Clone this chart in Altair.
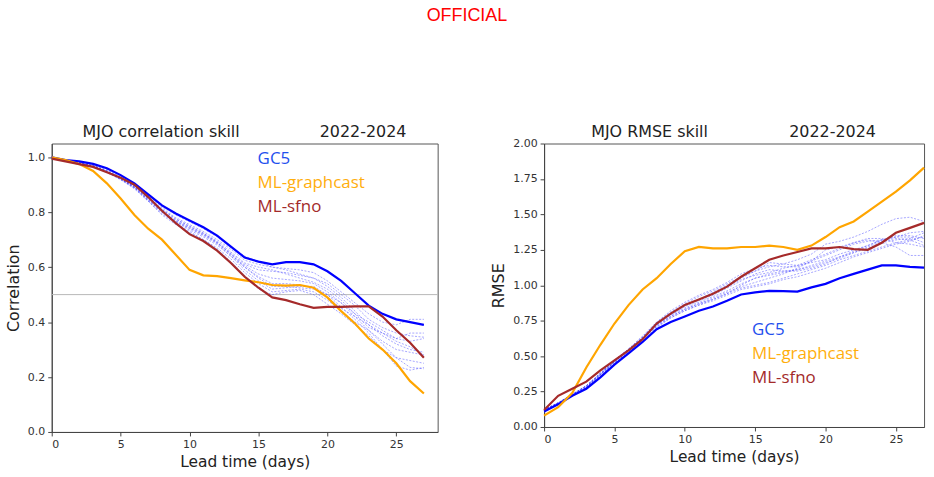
import altair as alt
import pandas as pd

lead = list(range(28))

# ---------------- Correlation panel ----------------
corr_gc5 = [1.0, 0.99, 0.985, 0.976, 0.96, 0.935, 0.905, 0.865, 0.825, 0.795, 0.77, 0.745, 0.715, 0.675,
            0.635, 0.62, 0.61, 0.618, 0.618, 0.61, 0.585, 0.55, 0.505, 0.46, 0.43, 0.41, 0.40, 0.39]
corr_graphcast = [1.0, 0.99, 0.975, 0.95, 0.905, 0.85, 0.79, 0.74, 0.70, 0.645, 0.59, 0.57, 0.567, 0.56,
                  0.552, 0.545, 0.535, 0.533, 0.535, 0.525, 0.49, 0.44, 0.395, 0.34, 0.30, 0.25, 0.185, 0.14]
corr_sfno = [0.995, 0.985, 0.975, 0.965, 0.945, 0.925, 0.90, 0.855, 0.805, 0.76, 0.72, 0.695, 0.66, 0.615,
             0.565, 0.525, 0.49, 0.48, 0.465, 0.452, 0.455, 0.455, 0.457, 0.457, 0.42, 0.37, 0.325, 0.27]
corr_members = [
    [1.0, 0.99, 0.98, 0.97, 0.955, 0.93, 0.9, 0.86, 0.82, 0.79, 0.765, 0.74, 0.71, 0.67, 0.64, 0.62, 0.6, 0.595, 0.59, 0.58, 0.55, 0.51, 0.47, 0.43, 0.40, 0.39, 0.41, 0.41],
    [1.0, 0.99, 0.98, 0.968, 0.95, 0.925, 0.895, 0.85, 0.81, 0.775, 0.75, 0.725, 0.69, 0.65, 0.61, 0.59, 0.585, 0.58, 0.57, 0.56, 0.54, 0.5, 0.46, 0.41, 0.38, 0.36, 0.35, 0.345],
    [1.0, 0.99, 0.978, 0.965, 0.948, 0.92, 0.89, 0.845, 0.8, 0.765, 0.735, 0.71, 0.68, 0.64, 0.6, 0.56, 0.53, 0.53, 0.525, 0.52, 0.5, 0.47, 0.43, 0.4, 0.37, 0.34, 0.33, 0.34],
    [1.0, 0.99, 0.978, 0.966, 0.946, 0.92, 0.888, 0.84, 0.795, 0.76, 0.73, 0.7, 0.67, 0.63, 0.58, 0.54, 0.51, 0.515, 0.52, 0.51, 0.48, 0.44, 0.4, 0.37, 0.33, 0.3, 0.29, 0.28],
    [1.0, 0.99, 0.977, 0.965, 0.945, 0.918, 0.885, 0.84, 0.79, 0.755, 0.725, 0.7, 0.665, 0.62, 0.57, 0.52, 0.50, 0.51, 0.515, 0.50, 0.465, 0.43, 0.39, 0.35, 0.3, 0.27, 0.26, 0.25],
    [1.0, 0.99, 0.98, 0.97, 0.952, 0.926, 0.895, 0.855, 0.815, 0.78, 0.755, 0.73, 0.70, 0.665, 0.625, 0.61, 0.6, 0.59, 0.575, 0.56, 0.53, 0.49, 0.44, 0.39, 0.35, 0.32, 0.3, 0.29],
    [1.0, 0.99, 0.979, 0.967, 0.948, 0.922, 0.892, 0.848, 0.805, 0.77, 0.745, 0.72, 0.69, 0.645, 0.605, 0.575, 0.56, 0.555, 0.55, 0.54, 0.51, 0.47, 0.42, 0.37, 0.32, 0.27, 0.235, 0.23],
    [1.0, 0.99, 0.978, 0.966, 0.947, 0.92, 0.89, 0.843, 0.8, 0.765, 0.74, 0.715, 0.685, 0.64, 0.59, 0.55, 0.52, 0.525, 0.53, 0.53, 0.5, 0.455, 0.41, 0.36, 0.3, 0.24, 0.225, 0.235],
    [1.0, 0.99, 0.98, 0.969, 0.95, 0.924, 0.893, 0.852, 0.81, 0.775, 0.748, 0.723, 0.695, 0.655, 0.615, 0.6, 0.59, 0.575, 0.56, 0.545, 0.52, 0.48, 0.43, 0.38, 0.36, 0.33, 0.31, 0.28],
    [1.0, 0.99, 0.979, 0.967, 0.949, 0.923, 0.89, 0.846, 0.802, 0.768, 0.742, 0.718, 0.688, 0.648, 0.6, 0.565, 0.54, 0.54, 0.535, 0.525, 0.49, 0.45, 0.42, 0.39, 0.36, 0.34, 0.36, 0.36],
]

# ---------------- RMSE panel ----------------
rmse_gc5 = [0.11, 0.16, 0.22, 0.27, 0.35, 0.44, 0.52, 0.60, 0.69, 0.74, 0.78, 0.82, 0.85, 0.89,
            0.935, 0.95, 0.96, 0.958, 0.955, 0.985, 1.01, 1.05, 1.08, 1.11, 1.14, 1.14, 1.13, 1.125]
rmse_graphcast = [0.08, 0.14, 0.24, 0.42, 0.58, 0.73, 0.86, 0.97, 1.05, 1.15, 1.24, 1.27, 1.26, 1.26,
                  1.27, 1.27, 1.28, 1.27, 1.25, 1.28, 1.34, 1.41, 1.45, 1.52, 1.59, 1.66, 1.74, 1.83]
rmse_sfno = [0.12, 0.22, 0.27, 0.32, 0.40, 0.47, 0.54, 0.62, 0.73, 0.80, 0.86, 0.90, 0.94, 0.99,
             1.06, 1.12, 1.18, 1.21, 1.235, 1.26, 1.26, 1.27, 1.255, 1.25, 1.30, 1.37, 1.405, 1.44]
rmse_members = [
    [0.12, 0.17, 0.23, 0.28, 0.37, 0.46, 0.54, 0.63, 0.72, 0.78, 0.83, 0.87, 0.9, 0.94, 0.98, 1.0, 1.02, 1.05, 1.08, 1.11, 1.14, 1.18, 1.21, 1.24, 1.27, 1.3, 1.32, 1.34],
    [0.12, 0.17, 0.23, 0.29, 0.38, 0.47, 0.55, 0.64, 0.74, 0.81, 0.87, 0.92, 0.96, 1.01, 1.06, 1.1, 1.13, 1.15, 1.18, 1.22, 1.29, 1.31, 1.34, 1.38, 1.43, 1.47, 1.48, 1.45],
    [0.11, 0.16, 0.22, 0.28, 0.37, 0.46, 0.54, 0.62, 0.72, 0.79, 0.85, 0.89, 0.93, 0.98, 1.03, 1.08, 1.11, 1.1, 1.1, 1.12, 1.15, 1.2, 1.24, 1.28, 1.32, 1.35, 1.35, 1.33],
    [0.12, 0.17, 0.23, 0.29, 0.38, 0.47, 0.55, 0.63, 0.73, 0.8, 0.86, 0.9, 0.94, 0.99, 1.04, 1.07, 1.09, 1.12, 1.14, 1.18, 1.22, 1.26, 1.3, 1.32, 1.3, 1.27, 1.21, 1.21],
    [0.11, 0.16, 0.22, 0.28, 0.36, 0.45, 0.53, 0.62, 0.71, 0.78, 0.83, 0.87, 0.91, 0.95, 0.99, 1.02, 1.05, 1.08, 1.12, 1.17, 1.25, 1.27, 1.3, 1.33, 1.33, 1.3, 1.29, 1.27],
    [0.12, 0.17, 0.23, 0.29, 0.37, 0.46, 0.54, 0.63, 0.73, 0.80, 0.86, 0.9, 0.95, 1.0, 1.05, 1.1, 1.16, 1.15, 1.14, 1.16, 1.18, 1.22, 1.25, 1.28, 1.32, 1.34, 1.37, 1.38],
    [0.11, 0.16, 0.22, 0.28, 0.37, 0.46, 0.54, 0.62, 0.71, 0.77, 0.82, 0.86, 0.89, 0.93, 0.97, 0.99, 1.01, 1.04, 1.06, 1.09, 1.12, 1.16, 1.2, 1.23, 1.26, 1.29, 1.31, 1.35],
    [0.12, 0.17, 0.23, 0.29, 0.38, 0.47, 0.55, 0.64, 0.74, 0.82, 0.88, 0.93, 0.97, 1.02, 1.08, 1.12, 1.14, 1.13, 1.13, 1.17, 1.21, 1.25, 1.29, 1.31, 1.32, 1.34, 1.34, 1.3],
    [0.11, 0.16, 0.22, 0.28, 0.36, 0.45, 0.53, 0.61, 0.70, 0.77, 0.82, 0.86, 0.9, 0.94, 1.0, 1.05, 1.07, 1.09, 1.11, 1.14, 1.17, 1.2, 1.23, 1.26, 1.3, 1.32, 1.33, 1.37],
    [0.12, 0.17, 0.23, 0.29, 0.37, 0.46, 0.54, 0.63, 0.72, 0.79, 0.84, 0.88, 0.92, 0.96, 1.01, 1.05, 1.08, 1.1, 1.11, 1.13, 1.16, 1.19, 1.23, 1.27, 1.31, 1.33, 1.32, 1.28],
]

models = ["GC5", "ML-graphcast", "ML-sfno"]
line_colors = ["#0000ff", "#ffa500", "#a52a2a"]
text_colors = ["#1f50ee", "#ffae0d", "#a32a2a"]
x_ticks = [0, 5, 10, 15, 20, 25]


def main_df(gc5, gcast, sfno):
    rows = []
    for name, vals in zip(models, [gc5, gcast, sfno]):
        for d, v in zip(lead, vals):
            rows.append({"lead": d, "value": v, "model": name})
    return pd.DataFrame(rows)


def member_df(members):
    rows = []
    for i, vals in enumerate(members):
        for d, v in zip(lead, vals):
            rows.append({"lead": d, "value": v, "member": i})
    return pd.DataFrame(rows)


def panel(gc5, gcast, sfno, members, xmax, ymax, yticks, yfmt, ytitle, w, h,
          title_left, tl_x, tr_x, leg_x, leg_y, hline=None):
    xenc = alt.X("lead:Q", scale=alt.Scale(domain=[0, xmax], nice=False, zero=False),
                 axis=alt.Axis(values=x_ticks, title="Lead time (days)", format="d"))
    yenc = alt.Y("value:Q", scale=alt.Scale(domain=[0, ymax], nice=False, zero=False),
                 axis=alt.Axis(values=yticks, format=yfmt, title=ytitle))
    mem = alt.Chart(member_df(members)).mark_line(
        color="#3a3aff", strokeWidth=1, opacity=0.45, strokeDash=[2, 1.5]
    ).encode(x=xenc, y=yenc, detail="member:N")
    main = alt.Chart(main_df(gc5, gcast, sfno)).mark_line(strokeWidth=2.2).encode(
        x=xenc, y=yenc,
        color=alt.Color("model:N", scale=alt.Scale(domain=models, range=line_colors), legend=None),
        order=alt.Order("model:N"),
    )
    layers = [mem, main]
    if hline is not None:
        rule = alt.Chart(pd.DataFrame({"v": [hline]})).mark_rule(color="#b8b8b8", strokeWidth=1).encode(
            y=alt.Y("v:Q"))
        layers.insert(0, rule)
    t1 = alt.Chart(pd.DataFrame({"t": [title_left]})).mark_text(
        font="DejaVu Sans", fontSize=16, color="#222", align="center", baseline="middle"
    ).encode(text="t:N", x=alt.value(tl_x), y=alt.value(-12))
    t2 = alt.Chart(pd.DataFrame({"t": ["2022-2024"]})).mark_text(
        font="DejaVu Sans", fontSize=16, color="#222", align="center", baseline="middle"
    ).encode(text="t:N", x=alt.value(tr_x), y=alt.value(-12))
    layers += [t1, t2]
    for i, (name, col) in enumerate(zip(models, text_colors)):
        layers.append(alt.Chart(pd.DataFrame({"t": [name]})).mark_text(
            font="Open Sans", fontSize=17, color=col, align="left", baseline="middle"
        ).encode(text="t:N", x=alt.value(leg_x), y=alt.value(leg_y + i * 24)))
    return alt.layer(*layers).properties(width=w, height=h)


left = panel(corr_gc5, corr_graphcast, corr_sfno, corr_members, 28, 1.05,
             [0.0, 0.2, 0.4, 0.6, 0.8, 1.0], ".1f", "Correlation", 388, 290,
             "MJO correlation skill", 110, 313, 207, 16, hline=0.5)
right = panel(rmse_gc5, rmse_graphcast, rmse_sfno, rmse_members, 27, 2.0,
              [0, 0.25, 0.5, 0.75, 1.0, 1.25, 1.5, 1.75, 2.0], ".2f", "RMSE", 382, 285,
              "MJO RMSE skill", 106, 290, 209, 188)

chart = alt.hconcat(left, right, spacing=52).properties(
    title=alt.TitleParams("OFFICIAL", color="#ff0000", fontSize=18, font="Liberation Sans",
                          fontWeight="normal", anchor="middle", offset=99),
    background="white", padding=5,
).configure_axis(
    grid=False, labelFont="DejaVu Sans", labelFontSize=11, labelColor="#333",
    titleFont="DejaVu Sans", titleFontWeight="normal", titleColor="#222", titleFontSize=16,
    tickColor="#444", domainColor="#444", tickSize=4, labelPadding=3, titlePadding=6,
).configure_axisX(titleFontSize=15.5, titlePadding=5).configure_view(
    stroke="#555", strokeWidth=1
)

chart.save("out.html", embed_options={"renderer": "svg", "actions": False})
